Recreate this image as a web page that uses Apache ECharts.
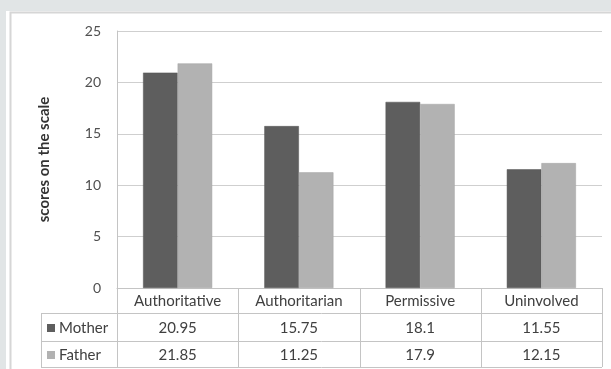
<!DOCTYPE html>
<html>
<head>
<meta charset="utf-8">
<script src="https://cdn.jsdelivr.net/npm/echarts@6/dist/echarts.min.js"></script>
<style>
  html, body { margin: 0; padding: 0; background: #e1e5e6; }
  #main { width: 611px; height: 369px; }
</style>
</head>
<body>
<div id="main"></div>
<script>
const categories = ['Authoritative', 'Authoritarian', 'Permissive', 'Uninvolved'];
const mother = [20.95, 15.75, 18.1, 11.55];
const father = [21.85, 11.25, 17.9, 12.15];
const seriesNames = ['Mother', 'Father'];
const colors = ['#5e5e5e', '#b2b2b2'];

// plot box in pixels
const G = { left: 117, top: 31, right: 602, bottom: 288 };
const rowY = [288, 313, 341, 367];
const tableLeft = 41;
const font = 'Lato, "Open Sans", sans-serif';

const chart = echarts.init(document.getElementById('main'));

function buildTable() {
  const els = [];
  const line = '#c4c4c4';
  const colW = (G.right - G.left) / categories.length;
  // white card + frame
  els.push({ type: 'rect', z: -10, shape: { x: 6, y: 11, width: 620, height: 380 }, style: { fill: '#fff' } });
  els.push({ type: 'rect', z: -9, shape: { x: 10.5, y: 12.5, width: 620, height: 380 }, style: { fill: 'none', stroke: '#d6d6d6', lineWidth: 2 } });
  // horizontal lines
  [rowY[1], rowY[2], rowY[3]].forEach(y => {
    els.push({ type: 'line', shape: { x1: tableLeft, y1: y + 0.5, x2: G.right, y2: y + 0.5 }, style: { stroke: line, lineWidth: 1 } });
  });
  // vertical lines
  for (let i = 0; i <= categories.length; i++) {
    const x = Math.round(G.left + i * colW) + 0.5;
    els.push({ type: 'line', shape: { x1: x, y1: rowY[0], x2: x, y2: rowY[3] }, style: { stroke: line, lineWidth: 1 } });
  }
  els.push({ type: 'line', shape: { x1: tableLeft + 0.5, y1: rowY[1], x2: tableLeft + 0.5, y2: rowY[3] }, style: { stroke: line, lineWidth: 1 } });
  // category header
  categories.forEach((c, i) => {
    els.push({ type: 'text', style: { text: c, x: G.left + (i + 0.5) * colW, y: (rowY[0] + rowY[1]) / 2 + 1, align: 'center', verticalAlign: 'middle', fill: '#404040', font: '15px ' + font } });
  });
  // data rows
  [mother, father].forEach((vals, r) => {
    const cy = (rowY[r + 1] + rowY[r + 2]) / 2 + 1;
    els.push({ type: 'rect', shape: { x: tableLeft + 6, y: cy - 4, width: 8, height: 8 }, style: { fill: colors[r] } });
    els.push({ type: 'text', style: { text: seriesNames[r], x: tableLeft + 18, y: cy, align: 'left', verticalAlign: 'middle', fill: '#404040', font: '15px ' + font } });
    vals.forEach((v, i) => {
      els.push({ type: 'text', style: { text: String(v), x: G.left + (i + 0.5) * colW, y: cy, align: 'center', verticalAlign: 'middle', fill: '#404040', font: '15px ' + font } });
    });
  });
  return els;
}

chart.setOption({
  backgroundColor: '#e1e5e6',
  animation: false,
  textStyle: { fontFamily: font },
  grid: { left: G.left, top: G.top, right: 611 - G.right, bottom: 369 - G.bottom },
  xAxis: {
    type: 'category',
    data: categories,
    axisLine: { lineStyle: { color: '#c4c4c4' } },
    axisTick: { show: false },
    axisLabel: { show: false }
  },
  yAxis: {
    type: 'value',
    min: 0,
    max: 25,
    interval: 5,
    name: 'scores on the scale',
    nameLocation: 'middle',
    nameGap: 65,
    nameTextStyle: { fontSize: 15, fontWeight: 'bold', color: '#333' },
    axisLine: { show: true, lineStyle: { color: '#c4c4c4' } },
    axisTick: { show: false },
    axisLabel: { color: '#505050', fontSize: 14, margin: 16 },
    splitLine: { lineStyle: { color: '#cfcfcf' } }
  },
  series: [
    { name: seriesNames[0], type: 'bar', data: mother, barGap: '0%', barCategoryGap: '43%',
      itemStyle: { color: colors[0], borderColor: '#555', borderWidth: 0.5 } },
    { name: seriesNames[1], type: 'bar', data: father,
      itemStyle: { color: colors[1], borderColor: '#a5a5a5', borderWidth: 0.5 } }
  ],
  graphic: buildTable()
});
</script>
</body>
</html>
